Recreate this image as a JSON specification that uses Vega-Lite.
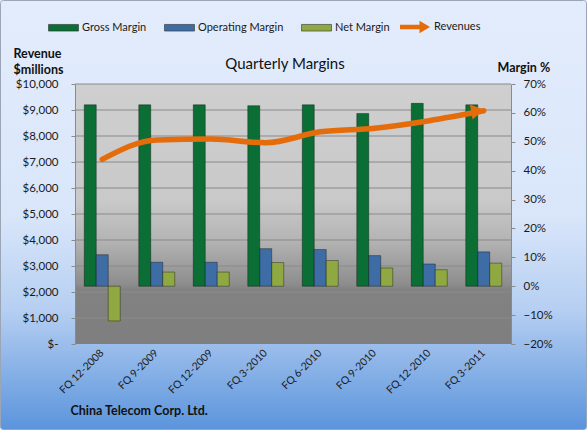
{
  "$schema": "https://vega.github.io/schema/vega-lite/v6.json",
  "width": 436,
  "height": 260,
  "autosize": {"type": "none"},
  "padding": {"left": 75, "top": 84, "right": 76, "bottom": 86},
  "background": "#dfe9fb",
  "title": {
    "text": "Quarterly Margins",
    "font": "Lato",
    "fontSize": 15,
    "fontWeight": "normal",
    "color": "#111111",
    "offset": 12,
    "dx": -8,
    "dy": 84
  },
  "datasets": {
    "margins": [
      {"quarter": "FQ 12-2008", "measure": "Gross Margin", "value": 0.628},
      {"quarter": "FQ 12-2008", "measure": "Operating Margin", "value": 0.109},
      {"quarter": "FQ 12-2008", "measure": "Net Margin", "value": -0.12},
      {"quarter": "FQ 9-2009", "measure": "Gross Margin", "value": 0.628},
      {"quarter": "FQ 9-2009", "measure": "Operating Margin", "value": 0.083},
      {"quarter": "FQ 9-2009", "measure": "Net Margin", "value": 0.049},
      {"quarter": "FQ 12-2009", "measure": "Gross Margin", "value": 0.628},
      {"quarter": "FQ 12-2009", "measure": "Operating Margin", "value": 0.083},
      {"quarter": "FQ 12-2009", "measure": "Net Margin", "value": 0.049},
      {"quarter": "FQ 3-2010", "measure": "Gross Margin", "value": 0.625},
      {"quarter": "FQ 3-2010", "measure": "Operating Margin", "value": 0.13},
      {"quarter": "FQ 3-2010", "measure": "Net Margin", "value": 0.082},
      {"quarter": "FQ 6-2010", "measure": "Gross Margin", "value": 0.628},
      {"quarter": "FQ 6-2010", "measure": "Operating Margin", "value": 0.127},
      {"quarter": "FQ 6-2010", "measure": "Net Margin", "value": 0.089},
      {"quarter": "FQ 9-2010", "measure": "Gross Margin", "value": 0.598},
      {"quarter": "FQ 9-2010", "measure": "Operating Margin", "value": 0.106},
      {"quarter": "FQ 9-2010", "measure": "Net Margin", "value": 0.063},
      {"quarter": "FQ 12-2010", "measure": "Gross Margin", "value": 0.633},
      {"quarter": "FQ 12-2010", "measure": "Operating Margin", "value": 0.077},
      {"quarter": "FQ 12-2010", "measure": "Net Margin", "value": 0.057},
      {"quarter": "FQ 3-2011", "measure": "Gross Margin", "value": 0.628},
      {"quarter": "FQ 3-2011", "measure": "Operating Margin", "value": 0.119},
      {"quarter": "FQ 3-2011", "measure": "Net Margin", "value": 0.08}
    ],
    "revenue": [
      {"quarter": "FQ 12-2008", "revenue": 7100},
      {"quarter": "FQ 9-2009", "revenue": 7850},
      {"quarter": "FQ 12-2009", "revenue": 7880},
      {"quarter": "FQ 3-2010", "revenue": 7740},
      {"quarter": "FQ 6-2010", "revenue": 8160},
      {"quarter": "FQ 9-2010", "revenue": 8300},
      {"quarter": "FQ 12-2010", "revenue": 8590},
      {"quarter": "FQ 3-2011", "revenue": 8970}
    ],
    "gridlines": [
      {"level": 1000}, {"level": 2000}, {"level": 3000}, {"level": 4000},
      {"level": 5000}, {"level": 6000}, {"level": 7000}, {"level": 8000},
      {"level": 9000}, {"level": 10000}
    ],
    "panel": [{"part": "panel"}]
  },
  "layer": [
    {
      "description": "Blue gradient card behind the whole chart",
      "data": {"name": "panel"},
      "mark": {
        "type": "rect",
        "x": -74.5,
        "x2": 511.5,
        "y": -83.5,
        "y2": 345.5,
        "cornerRadius": 3,
        "stroke": "#9aa6b6",
        "strokeWidth": 1,
        "color": {
          "gradient": "linear",
          "x1": 0, "y1": 0, "x2": 0, "y2": 1,
          "stops": [
            {"offset": 0, "color": "#e3ecfc"},
            {"offset": 0.5, "color": "#d9e6fa"},
            {"offset": 0.72, "color": "#b6cff2"},
            {"offset": 1, "color": "#5b94dc"}
          ]
        }
      }
    },
    {
      "description": "Grey plot area",
      "data": {"name": "panel"},
      "mark": {
        "type": "rect",
        "x": 0,
        "x2": {"expr": "width"},
        "y": 0,
        "y2": {"expr": "height"},
        "color": {
          "gradient": "linear",
          "x1": 0, "y1": 0, "x2": 0, "y2": 1,
          "stops": [
            {"offset": 0, "color": "#cfcfcf"},
            {"offset": 0.45, "color": "#c9c9c9"},
            {"offset": 0.6, "color": "#b4b4b4"},
            {"offset": 0.77, "color": "#8d8d8d"},
            {"offset": 0.79, "color": "#828282"},
            {"offset": 1, "color": "#7e7e7e"}
          ]
        }
      }
    },
    {
      "description": "Horizontal gridlines on the revenue scale",
      "data": {"name": "gridlines"},
      "mark": {"type": "rule", "color": "#8a8a8a", "strokeWidth": 1},
      "encoding": {
        "y": {
          "field": "level",
          "type": "quantitative",
          "scale": {"domain": [0, 10000], "nice": false},
          "axis": null
        }
      }
    },
    {
      "description": "Margin bars, grouped by quarter",
      "data": {"name": "margins"},
      "mark": {"type": "bar", "stroke": "#000000", "strokeOpacity": 0.35, "strokeWidth": 1},
      "encoding": {
        "x": {
          "field": "quarter",
          "type": "nominal",
          "sort": null,
          "scale": {"paddingInner": 0.34, "paddingOuter": 0.17},
          "axis": {
            "zindex": 2,
            "title": "China Telecom Corp. Ltd.",
            "labelAngle": -45,
            "labelAlign": "right",
            "labelBaseline": "middle",
            "labelPadding": 7,
            "labelFontSize": 10.5,
            "ticks": false,
            "domain": false,
            "titleAngle": 0,
            "titleAlign": "left",
            "titleBaseline": "top",
            "titleX": -5,
            "titleY": 60,
            "titleFontSize": 12.5,
            "titleFontWeight": "bold"
          }
        },
        "xOffset": {
          "field": "measure",
          "type": "nominal",
          "sort": ["Gross Margin", "Operating Margin", "Net Margin"],
          "scale": {"paddingInner": 0, "paddingOuter": 0}
        },
        "y": {
          "field": "value",
          "type": "quantitative",
          "scale": {"domain": [-0.2, 0.7], "nice": false, "zero": false},
          "axis": {
            "zindex": 2,
            "orient": "right",
            "values": [-0.2, -0.1, 0, 0.1, 0.2, 0.3, 0.4, 0.5, 0.6, 0.7],
            "format": ".0%",
            "grid": false,
            "tickSize": 4,
            "labelPadding": 8,
            "title": "Margin %",
            "titleAngle": 0,
            "titleAlign": "left",
            "titleBaseline": "top",
            "titleX": -14,
            "titleY": -23,
            "titleFontSize": 12.5,
            "titleFontWeight": "bold"
          }
        },
        "y2": {"datum": 0},
        "color": {
          "field": "measure",
          "type": "nominal",
          "scale": {
            "domain": ["Gross Margin", "Operating Margin", "Net Margin"],
            "range": ["#0a6e35", "#3e6ca4", "#8fa842"]
          },
          "legend": {
            "zindex": 2,
            "orient": "none",
            "legendX": -27,
            "legendY": -72,
            "direction": "horizontal",
            "title": null,
            "symbolType": "M-1,-0.22H1V0.22H-1Z",
            "symbolSize": 900,
            "symbolStrokeColor": "#333333",
            "symbolStrokeWidth": 0.6,
            "columnPadding": 16,
            "labelOffset": 3,
            "labelFontSize": 11
          }
        }
      }
    },
    {
      "description": "Revenue line",
      "data": {"name": "revenue"},
      "mark": {"type": "line", "color": "#e46c0a", "strokeWidth": 5.5, "interpolate": "monotone", "strokeCap": "round"},
      "encoding": {
        "x": {
          "field": "quarter",
          "type": "nominal",
          "sort": null,
          "scale": {"paddingInner": 0.34, "paddingOuter": 0.17},
          "axis": {
            "zindex": 2,
            "title": "China Telecom Corp. Ltd.",
            "labelAngle": -45,
            "labelAlign": "right",
            "labelBaseline": "middle",
            "labelPadding": 7,
            "labelFontSize": 10.5,
            "ticks": false,
            "domain": false,
            "titleAngle": 0,
            "titleAlign": "left",
            "titleBaseline": "top",
            "titleX": -5,
            "titleY": 60,
            "titleFontSize": 12.5,
            "titleFontWeight": "bold"
          }
        },
        "y": {
          "field": "revenue",
          "type": "quantitative",
          "scale": {"domain": [0, 10000], "nice": false},
          "axis": {
            "zindex": 2,
            "orient": "left",
            "values": [0, 1000, 2000, 3000, 4000, 5000, 6000, 7000, 8000, 9000, 10000],
            "labelExpr": "datum.value == 0 ? '$-\u00a0\u00a0' : '$' + format(datum.value, ',')",
            "grid": false,
            "tickSize": 4,
            "labelPadding": 13,
            "title": ["Revenue", "$millions"],
            "titleAngle": 0,
            "titleAlign": "left",
            "titleBaseline": "top",
            "titleX": -62,
            "titleY": -37,
            "titleLineHeight": 16,
            "titleFontSize": 12.5,
            "titleFontWeight": "bold"
          }
        }
      }
    },
    {
      "description": "Arrow head on the latest revenue point",
      "data": {"name": "revenue"},
      "transform": [{"filter": "datum.quarter == 'FQ 3-2011'"}],
      "mark": {"type": "point", "shape": "triangle-right", "filled": true, "size": 230, "angle": -10, "opacity": 1, "xOffset": -6},
      "encoding": {
        "x": {
          "field": "quarter",
          "type": "nominal",
          "sort": null,
          "scale": {"paddingInner": 0.34, "paddingOuter": 0.17},
          "axis": {
            "zindex": 2,
            "title": "China Telecom Corp. Ltd.",
            "labelAngle": -45,
            "labelAlign": "right",
            "labelBaseline": "middle",
            "labelPadding": 7,
            "labelFontSize": 10.5,
            "ticks": false,
            "domain": false,
            "titleAngle": 0,
            "titleAlign": "left",
            "titleBaseline": "top",
            "titleX": -5,
            "titleY": 60,
            "titleFontSize": 12.5,
            "titleFontWeight": "bold"
          }
        },
        "y": {
          "field": "revenue",
          "type": "quantitative",
          "scale": {"domain": [0, 10000], "nice": false},
          "axis": null
        },
        "fill": {
          "datum": "Revenues",
          "type": "nominal",
          "scale": {"domain": ["Revenues"], "range": ["#e46c0a"]},
          "legend": {
            "zindex": 2,
            "orient": "none",
            "legendX": 325,
            "legendY": -72,
            "direction": "horizontal",
            "title": null,
            "symbolType": "M-1,-0.15H0.3V-0.42L1,0L0.3,0.42V0.15H-1Z",
            "symbolSize": 900,
            "symbolFillColor": "#e46c0a",
            "symbolStrokeWidth": 0,
            "labelOffset": 4,
            "labelFontSize": 11
          }
        }
      }
    }
  ],
  "resolve": {"scale": {"y": "independent"}},
  "config": {
    "font": "Lato",
    "view": {"stroke": null},
    "axis": {
      "labelFont": "Lato",
      "labelFontSize": 11.5,
      "labelColor": "#1a1a1a",
      "titleFont": "Lato",
      "titleColor": "#111111",
      "domainColor": "#8a8a8a",
      "tickColor": "#8a8a8a"
    },
    "legend": {
      "labelFont": "Lato",
      "labelColor": "#1a1a1a"
    }
  }
}
